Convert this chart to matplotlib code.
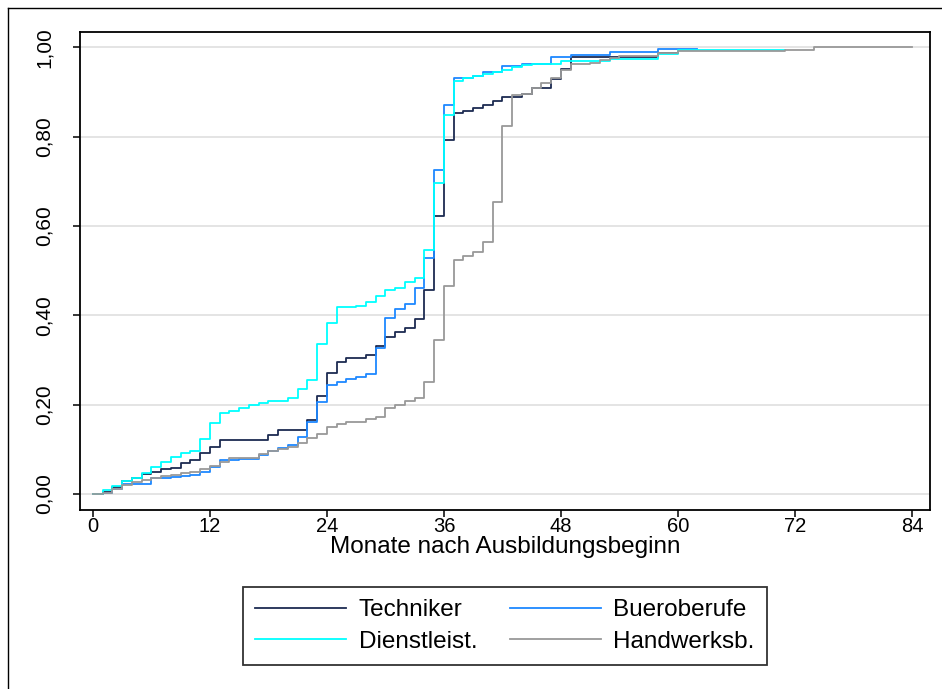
import matplotlib
matplotlib.use("Agg")
import matplotlib.pyplot as plt
from matplotlib.lines import Line2D
from matplotlib.ticker import FuncFormatter

plt.rcParams['font.family'] = ['Liberation Sans', 'DejaVu Sans']

# ---- data (months, cumulative proportion) ----
tech_t = [0, 1, 2, 3, 4, 5, 6, 7, 8, 9, 10, 11, 12, 13, 18, 19, 22, 23, 24, 25, 26, 28, 29, 30,
          31, 32, 33, 34, 35, 36, 37, 38, 39, 40, 41, 42, 44, 45, 47, 48, 49, 58, 60]
tech_v = [0, 0.005, 0.015, 0.028, 0.035, 0.044, 0.05, 0.055, 0.057, 0.069, 0.076, 0.091, 0.106,
          0.121, 0.132, 0.143, 0.166, 0.219, 0.271, 0.296, 0.305, 0.312, 0.331, 0.352, 0.362,
          0.371, 0.391, 0.456, 0.622, 0.792, 0.852, 0.858, 0.863, 0.870, 0.880, 0.889, 0.895,
          0.908, 0.928, 0.952, 0.978, 0.987, 0.987]

buero_t = [0, 1, 2, 3, 6, 8, 9, 10, 11, 12, 13, 15, 17, 18, 19, 20, 21, 22, 23, 24, 25, 26, 27,
           28, 29, 30, 31, 32, 33, 34, 35, 36, 37, 39, 40, 42, 44, 47, 49, 53, 58, 62]
buero_v = [0, 0.002, 0.01, 0.022, 0.035, 0.037, 0.039, 0.043, 0.05, 0.06, 0.075, 0.078, 0.087,
           0.097, 0.102, 0.11, 0.128, 0.162, 0.206, 0.244, 0.251, 0.257, 0.262, 0.268, 0.327,
           0.393, 0.415, 0.425, 0.46, 0.527, 0.725, 0.87, 0.93, 0.935, 0.945, 0.957, 0.962,
           0.977, 0.982, 0.99, 0.997, 0.997]

dienst_t = [0, 1, 2, 3, 4, 5, 6, 7, 8, 9, 10, 11, 12, 13, 14, 15, 16, 17, 18, 20, 21, 22, 23, 24,
            25, 27, 28, 29, 30, 31, 32, 33, 34, 35, 36, 37, 38, 39, 40, 41, 42, 43, 44, 45, 48,
            53, 58, 60, 71]
dienst_v = [0, 0.009, 0.018, 0.028, 0.035, 0.046, 0.06, 0.072, 0.083, 0.091, 0.095, 0.122, 0.158,
            0.181, 0.186, 0.192, 0.2, 0.204, 0.209, 0.214, 0.234, 0.255, 0.336, 0.383, 0.418,
            0.42, 0.43, 0.443, 0.456, 0.462, 0.475, 0.483, 0.546, 0.695, 0.848, 0.925, 0.93,
            0.935, 0.941, 0.945, 0.95, 0.956, 0.96, 0.962, 0.97, 0.973, 0.985, 0.993, 0.993]

hand_t = [0, 1, 2, 3, 4, 5, 6, 7, 8, 9, 10, 11, 12, 13, 14, 17, 18, 19, 20, 21, 22, 23, 24, 25,
          26, 28, 29, 30, 31, 32, 33, 34, 35, 36, 37, 38, 39, 40, 41, 42, 43, 44, 45, 46, 47, 48,
          49, 51, 52, 53, 54, 58, 60, 71, 74, 84]
hand_v = [0, 0.003, 0.012, 0.02, 0.027, 0.032, 0.036, 0.04, 0.043, 0.047, 0.05, 0.055, 0.062,
          0.072, 0.08, 0.089, 0.095, 0.1, 0.106, 0.113, 0.125, 0.135, 0.149, 0.157, 0.162, 0.167,
          0.173, 0.192, 0.2, 0.209, 0.214, 0.25, 0.345, 0.465, 0.523, 0.532, 0.542, 0.565, 0.654,
          0.823, 0.893, 0.895, 0.908, 0.919, 0.93, 0.948, 0.962, 0.965, 0.971, 0.976, 0.98,
          0.986, 0.991, 0.993, 1.0, 1.0]

labels = ["Techniker", "Bueroberufe", "Dienstleist.", "Handwerksb."]
colors = ["#1c2b52", "#1e88ff", "#00ffff", "#999999"]
x_ticks = [0, 12, 24, 36, 48, 60, 72, 84]
y_ticks = [0.0, 0.2, 0.4, 0.6, 0.8, 1.0]
x_label = "Monate nach Ausbildungsbeginn"

W, H = 942, 689
fig = plt.figure(figsize=(W / 100, H / 100), dpi=100)
fig.patch.set_facecolor("white")
ax = fig.add_axes([80 / W, 1 - 510 / H, 850 / W, 478 / H])

for yv in y_ticks:
    ax.axhline(yv, color="#dcdcdc", lw=1.1, zorder=0)

series = [(tech_t, tech_v), (buero_t, buero_v), (dienst_t, dienst_v), (hand_t, hand_v)]
handles = []
for (t, v), lab, col in zip(series, labels, colors):
    h, = ax.step(t, v, where="post", color=col, lw=1.3, label=lab, zorder=2)
    handles.append(h)

ax.set_xlim(-1.33, 85.85)
ax.set_ylim(-0.036, 1.034)
ax.set_xticks(x_ticks)
ax.set_xticklabels([str(x) for x in x_ticks])
ax.set_yticks(y_ticks)
ax.yaxis.set_major_formatter(FuncFormatter(lambda v, p: f"{v:.2f}".replace(".", ",")))
ax.tick_params(axis="x", length=5, width=1.1, labelsize=14.5, pad=0, direction="out")
ax.tick_params(axis="y", length=5, width=1.1, labelsize=15, pad=14, direction="out")
for lab in ax.get_yticklabels():
    lab.set_rotation(90)
    lab.set_va("center")
for s in ax.spines.values():
    s.set_linewidth(1.3)
    s.set_color("black")
ax.set_xlabel(x_label, fontsize=17.5, labelpad=0)

# legend (column-wise order to match row-wise reading)
order = [0, 2, 1, 3]
leg = fig.legend([handles[i] for i in order], [labels[i] for i in order],
                 loc="center", bbox_to_anchor=(505 / W, 1 - 626 / H), ncol=2,
                 fontsize=17.5, handlelength=3.75, handletextpad=0.5, columnspacing=1.35,
                 borderpad=0.5, labelspacing=0.4, fancybox=False, frameon=True)
leg.get_frame().set_edgecolor("black")
leg.get_frame().set_linewidth(1.3)

# outer frame (left and top edges)
fig.add_artist(Line2D([8 / W, 8 / W], [0, 1 - 8 / H], transform=fig.transFigure, color="black", lw=1))
fig.add_artist(Line2D([8 / W, 1], [1 - 8 / H, 1 - 8 / H], transform=fig.transFigure, color="black", lw=1))

fig.savefig("out.png", dpi=100)
